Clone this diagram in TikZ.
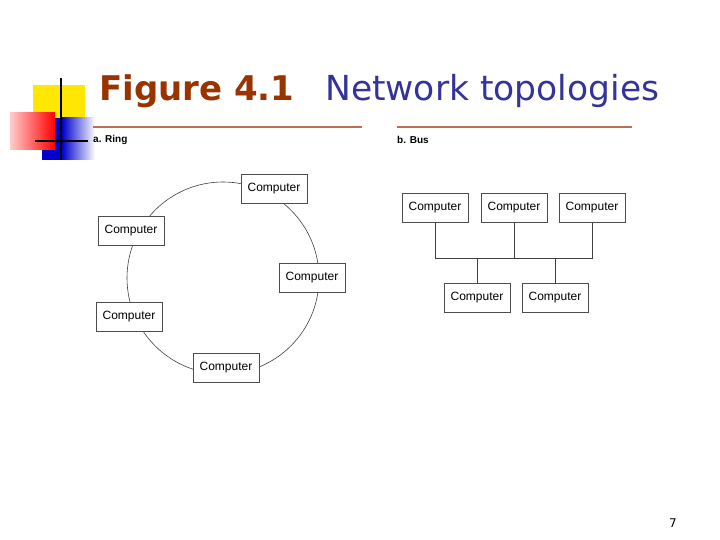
\documentclass[tikz,border=0pt]{standalone}
\usepackage{fontspec}
\setmainfont{DejaVu Sans}
\newfontfamily\arialf{Liberation Sans}
\begin{document}
\begin{tikzpicture}[x=1pt,y=-1pt,
  comp/.style={draw=black!70,fill=white,line width=0.6pt,minimum width=66pt,minimum height=29pt,inner sep=0pt,font=\arialf\fontsize{12}{13}\selectfont},
  wire/.style={draw=black!75,line width=0.6pt},
  hdr/.style={anchor=west,font=\arialf\bfseries\fontsize{10}{11}\selectfont,inner sep=0pt},
  rule/.style={draw={rgb,255:red,190;green,110;blue,85},line width=1.2pt}]
\useasboundingbox (0,0) rectangle (720,540);
\definecolor{ttlbrown}{RGB}{153,51,0}
\definecolor{ttlblue}{RGB}{51,51,153}
% logo
\fill[yellow!90!orange] (33,85) rectangle (85,135);
\shade[left color=blue!80!black,right color=white] (62,118) rectangle (95,160);
\fill[blue!80!black] (42,118) rectangle (62,160);
\shade[left color=red!20,right color=red] (10,113) rectangle (55,150);
\draw[line width=1.5pt] (61,78) -- (61,160);
\draw[line width=1.5pt] (35,141) -- (88,141);
% title
\node[anchor=base west,inner sep=0pt,text=ttlbrown,font=\bfseries\fontsize{34}{36}\selectfont] (t1) at (99,101) {Figure 4.1};
\node[anchor=base west,inner sep=0pt,text=ttlblue,font=\fontsize{34.5}{36}\selectfont] (t2) at (325,101) {Network topologies};
% headers
\draw[rule] (93,127) -- (362,127);
\draw[rule] (397,127) -- (632,127);
\node[hdr] (ha) at (93,140) {a. Ring};
\node[hdr] (hb) at (397,140) {b. Bus};
% ring
\draw[wire] (223,278) circle (96);
\node[comp] (r1) at (274,189) {Computer};
\node[comp] (r2) at (131,231) {Computer};
\node[comp] (r3) at (312,278) {Computer};
\node[comp] (r4) at (129,317) {Computer};
\node[comp] (r5) at (226,368) {Computer};
% bus
\node[comp] (b1) at (435,208) {Computer};
\node[comp] (b2) at (514,208) {Computer};
\node[comp] (b3) at (592,208) {Computer};
\node[comp] (b4) at (477,298) {Computer};
\node[comp] (b5) at (555,298) {Computer};
\coordinate (bl) at (435,258);
\coordinate (br) at (592,258);
\draw[wire] (b1.south) -- (bl) -- (br) -- (b3.south);
\draw[wire] (b2.south) -- (b2.south |- bl);
\draw[wire] (b4.north) -- (b4.north |- bl);
\draw[wire] (b5.north) -- (b5.north |- bl);
\node[font=\fontsize{12}{13}\selectfont,inner sep=0pt] (pg) at (673,523) {7};
\end{tikzpicture}
\end{document}
